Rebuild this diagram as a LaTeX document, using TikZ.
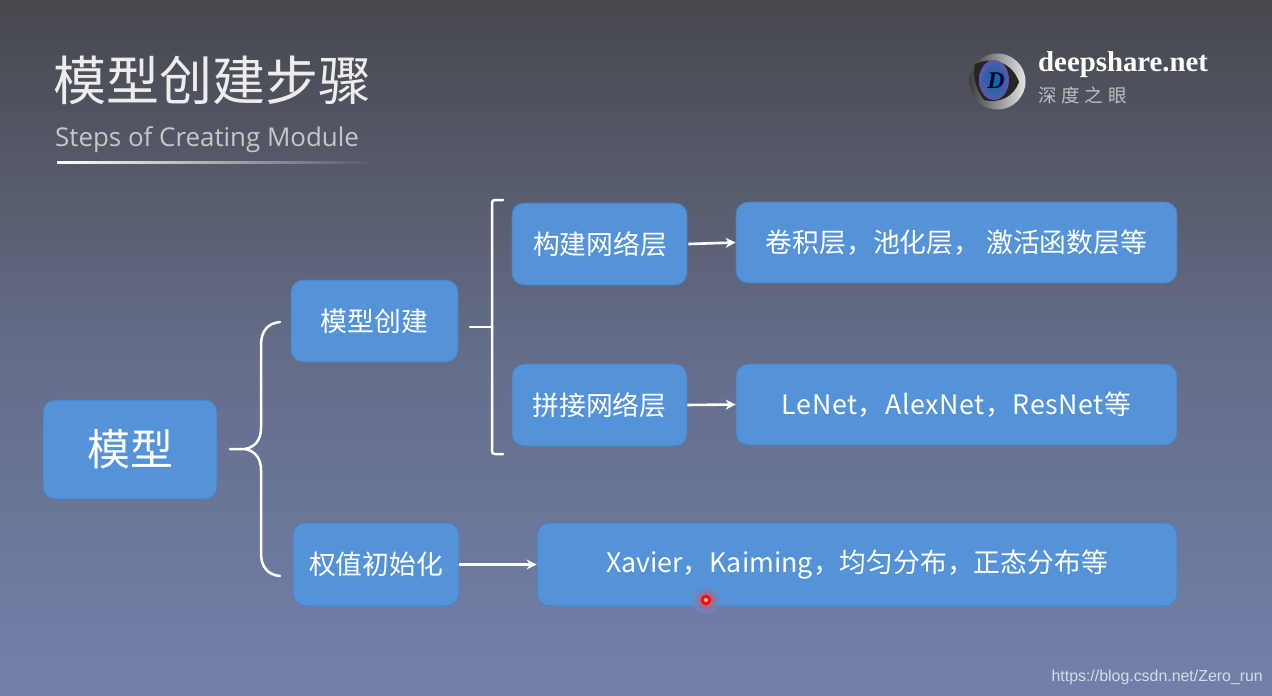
\documentclass[tikz,border=0pt]{standalone}
\usepackage{fontspec}
\usetikzlibrary{arrows.meta,calc,shadings,fadings}
\setmainfont{Noto Sans}
\newfontfamily\cjk{Noto Sans CJK SC}
\newfontfamily\cjktrack[LetterSpace=2.2]{Noto Sans CJK SC}
\newfontfamily\cjkwide[LetterSpace=26]{Noto Sans CJK SC}
\newfontfamily\opens{Open Sans}
\newfontfamily\logoserif{Liberation Serif}
\newfontfamily\wm{Liberation Sans}
\definecolor{bgtop}{HTML}{47484D}
\definecolor{bgmid}{HTML}{646C88}
\definecolor{bgbot}{HTML}{7380AA}
\definecolor{boxfill}{HTML}{5593D8}
\definecolor{boxline}{HTML}{4A7FBC}
\tikzset{
  x=1pt,y=-1pt,
  flowbox/.style={draw=boxline,line width=0.8pt,fill=boxfill,rounded corners=12pt,text=white,inner sep=0pt,font=\cjk\fontsize{26.8}{30}\selectfont,anchor=center},
  linkarrow/.style={draw=white,line width=2.6pt,-{Stealth[length=10pt,width=10pt]}},
  bracepath/.style={draw=white,line width=2.5pt,line cap=round},
}
\begin{document}
\begin{tikzpicture}
\useasboundingbox (0,0) rectangle (1272,696);
\shade[top color=bgtop,bottom color=bgbot,middle color=bgmid] (0,0) rectangle (1272,696);

% title
\node[anchor=west,text=white!93!black,inner sep=0pt,font=\cjk\fontsize{53}{56}\selectfont] (title) at (53,80) {模型创建步骤};
\node[anchor=west,text=white!78!black,inner sep=0pt,font=\opens\fontsize{25.9}{30}\selectfont] (subtitle) at (55,140) {Steps of Creating Module};
\shade[left color=white,right color=bgtop!50!bgmid] (57,161) rectangle (372,163);

% logo
\shade[left color=black!75,right color=white!90!black] (997.5,81.5) circle (28);
\fill[black!85] (975,64) .. controls (992,56) and (1012,62) .. (1019,82) .. controls (1014,96) and (1000,104) .. (984,100) .. controls (976,90) and (972,76) .. (975,64) -- cycle;
\shade[inner color=blue!35!cyan!65!black,outer color=blue!50!black!65] (994,80) ellipse (15 and 20);
\node[text=black!80!blue,inner sep=0pt,font=\logoserif\bfseries\itshape\fontsize{24}{24}\selectfont] (logod) at (996,81) {D};
\node[anchor=west,text=white,inner sep=0pt,font=\logoserif\bfseries\fontsize{28.8}{32}\selectfont] (logoname) at (1038,65) {deepshare.net};
\node[anchor=west,text=white!75!black,inner sep=0pt,font=\cjkwide\fontsize{18.5}{20}\selectfont] (logocn) at (1038,95) {深度之眼};

% boxes
\node[flowbox,minimum width=174pt,minimum height=99pt,font=\cjk\fontsize{43}{46}\selectfont] (model) at (130,449.5) {\raisebox{-2pt}{模型}};
\node[flowbox,minimum width=167pt,minimum height=82pt] (create) at (374.5,321) {\raisebox{-1pt}{模型创建}};
\node[flowbox,minimum width=175pt,minimum height=82pt] (build) at (599.5,244) {\raisebox{-1pt}{\hspace{1pt}构建网络层}};
\node[flowbox,minimum width=441pt,minimum height=81pt] (layers) at (956.5,242.5) {\raisebox{-1pt}{卷积层，池化层， 激活函数层等}};
\node[flowbox,minimum width=175pt,minimum height=82pt] (join) at (599.5,405) {\raisebox{-1pt}{拼接网络层}};
\node[flowbox,minimum width=441pt,minimum height=81pt,font=\cjktrack\fontsize{26.8}{30}\selectfont] (nets) at (956.5,404.5) {\raisebox{-1pt}{LeNet，AlexNet，ResNet等}};
\node[flowbox,minimum width=166pt,minimum height=83pt] (init) at (376,564.5) {\raisebox{-1pt}{权值初始化}};
\node[flowbox,minimum width=640pt,minimum height=83pt] (kinds) at (857,564.5) {\raisebox{-2pt}{Xavier，Kaiming，均匀分布，正态分布等}};

% connectors
\draw[linkarrow] (build.east) ++(1,0) -- (layers.west);
\draw[linkarrow] (join.east) -- (nets.west);
\draw[linkarrow] (init.east) -- (kinds.west);

% braces
\coordinate (bs) at (230,449);
\coordinate (bj) at (245,449);
\coordinate (bt) at (280,322);
\coordinate (bb) at (280,576);
\draw[bracepath] (bs) -- (bj) .. controls (255,447) and (261,440) .. (261,428) -- (261,345) .. controls (261,331) and (268,323) .. (bt);
\draw[bracepath] (bj) .. controls (255,451) and (261,458) .. (261,470) -- (261,553) .. controls (261,567) and (268,575) .. (bb);
\coordinate (rs) at (470,327);
\coordinate (rj) at (492,327);
\coordinate (rt) at (503,200);
\coordinate (rb) at (503,454);
\draw[bracepath] (rs) -- (rj);
\draw[bracepath] (rt) -- (495,200) .. controls (493,200) and (492,201) .. (492,203) -- (492,451) .. controls (492,453) and (493,454) .. (495,454) -- (rb);

% cursor dot
\shade[inner color=red!75!white,outer color=boxfill,opacity=0.75] (706,600) circle (14);
\fill[red!90!orange] (706,600) circle (5.4);
\fill[red!25!white] (706,600) circle (2);

% watermark
\node[anchor=east,text=white!72!bgbot,inner sep=0pt,font=\wm\fontsize{15.9}{18}\selectfont] (wm) at (1263,677) {https://blog.csdn.net/Zero\_run};
\end{tikzpicture}
\end{document}
